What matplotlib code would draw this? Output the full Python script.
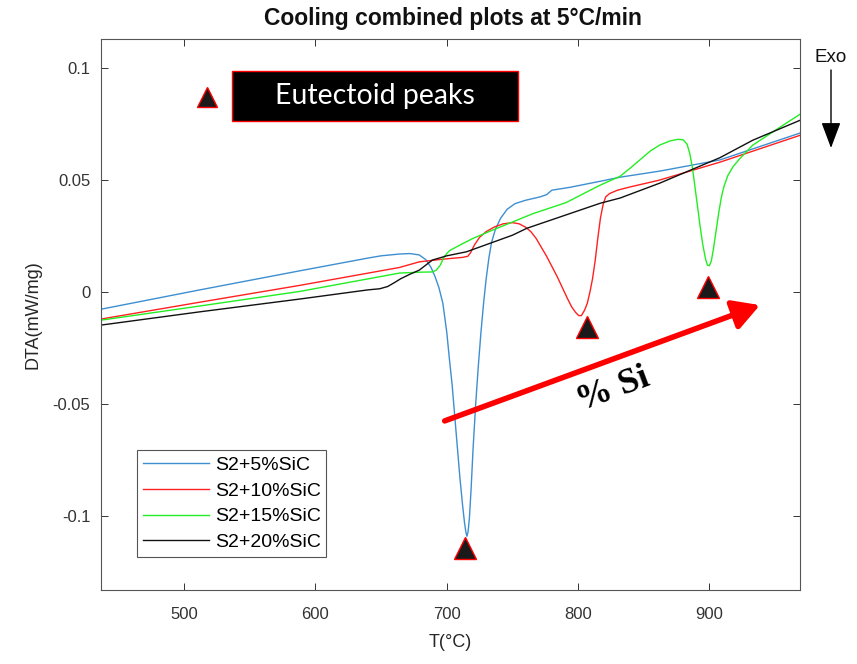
import matplotlib
matplotlib.use("Agg")
import matplotlib.pyplot as plt
from matplotlib.patches import Rectangle

plt.rcParams['font.family'] = ['Liberation Sans', 'DejaVu Sans']
plt.rcParams['axes.unicode_minus'] = False

# curves (T in degC, DTA in mW/mg)
t_5 = [437, 512, 588, 640, 650, 664, 672, 679, 684, 688, 691, 694, 697, 700, 702, 704,
       706, 708, 710, 712, 713.5, 714.5, 715.3, 716.2, 717.2, 718.5, 720, 722, 724, 726,
       728, 730, 732, 734, 737, 741, 746, 752, 760, 771, 776, 780, 794, 817, 832, 862, 908, 969]
dta_5 = [-0.0076, 0.001, 0.0095, 0.0152, 0.0162, 0.017, 0.0172, 0.0166, 0.0145, 0.011,
         0.007, 0.002, -0.005, -0.018, -0.030, -0.041, -0.055, -0.069, -0.083, -0.095,
         -0.103, -0.107, -0.109, -0.107, -0.101, -0.088, -0.070, -0.050, -0.033, -0.018,
         -0.005, 0.006, 0.015, 0.022, 0.028, 0.033, 0.037, 0.0395, 0.041, 0.0425, 0.0435,
         0.0455, 0.0468, 0.0495, 0.0513, 0.054, 0.059, 0.071]

t_10 = [437, 512, 588, 664, 679, 697, 712, 716, 718, 721, 725, 730, 736, 743, 750, 755,
        760, 764, 768, 772, 776, 780, 784, 788, 792, 795, 798, 800.5, 802.5, 805, 807, 809,
        811, 813, 815, 817, 819, 821, 824, 830, 840, 862, 908, 969]
dta_10 = [-0.012, -0.0045, 0.003, 0.011, 0.0135, 0.0147, 0.0155, 0.016, 0.0175, 0.021,
          0.0245, 0.027, 0.029, 0.0305, 0.031, 0.0305, 0.029, 0.027, 0.024, 0.020, 0.016,
          0.0115, 0.007, 0.002, -0.003, -0.0065, -0.009, -0.0105, -0.0105, -0.008, -0.005,
          0.000, 0.006, 0.014, 0.024, 0.033, 0.039, 0.0425, 0.044, 0.0455, 0.047, 0.050,
          0.058, 0.070]

t_15 = [437, 512, 588, 664, 680, 689, 692, 695, 698, 702, 710, 720, 735, 765.5, 791, 816.6,
        832, 840, 847, 855, 862, 870, 876, 880, 883, 885, 887, 889, 891, 893, 895, 897,
        898.5, 900, 901.5, 903, 905, 907, 909, 911, 914, 918, 923, 933, 948, 969]
dta_15 = [-0.0125, -0.0062, 0.0003, 0.0085, 0.0089, 0.009, 0.0098, 0.012, 0.0158, 0.0185,
          0.021, 0.024, 0.0277, 0.035, 0.040, 0.0477, 0.0517, 0.0555, 0.059, 0.063, 0.0656,
          0.0675, 0.0682, 0.0680, 0.066, 0.062, 0.0558, 0.047, 0.038, 0.029, 0.021, 0.015,
          0.012, 0.0118, 0.014, 0.019, 0.027, 0.035, 0.042, 0.047, 0.052, 0.056, 0.0595,
          0.0656, 0.0714, 0.0794]

t_20 = [437, 512, 588, 640, 649, 655, 660, 665, 672, 679, 685, 689, 700, 715, 750, 761,
        778.5, 817, 832, 862, 908, 933, 969]
dta_20 = [-0.0147, -0.0088, -0.0031, 0.001, 0.0015, 0.0025, 0.0042, 0.006, 0.008, 0.0098,
          0.0125, 0.0143, 0.0162, 0.018, 0.0254, 0.0285, 0.032, 0.0397, 0.042, 0.0486,
          0.060, 0.0678, 0.0767]

labels = ['S2+5%SiC', 'S2+10%SiC', 'S2+15%SiC', 'S2+20%SiC']
colors = ['#3d8fd1', '#ff2020', '#22ee22', '#111111']

peak_t = [713.7, 806.7, 899.0]
peak_dta = [-0.1143, -0.0156, 0.0022]

x_ticks = [500, 600, 700, 800, 900]
y_ticks = [-0.1, -0.05, 0, 0.05, 0.1]
y_tick_labels = ['-0.1', '-0.05', '0', '0.05', '0.1']

fig = plt.figure(figsize=(8.57, 6.64), dpi=100)
ax = fig.add_axes([0.1184, 0.1114, 0.8151, 0.8299])

series = [(t_5, dta_5), (t_10, dta_10), (t_15, dta_15), (t_20, dta_20)]
for (t, d), c, lab in zip(series, colors, labels):
    ax.plot(t, d, color=c, lw=1, label=lab)

ax.plot(peak_t, peak_dta, ls='none', marker='^', ms=16, mfc='#1a1a1a', mec='red', mew=1)

ax.set_xlim(437, 969)
ax.set_ylim(-0.133, 0.113)
ax.set_xticks(x_ticks)
ax.set_yticks(y_ticks)
ax.set_yticklabels(y_tick_labels)
ax.tick_params(direction='in', top=True, right=True, length=5, width=0.7,
               labelsize=12, colors='#333333', pad=8)
ax.tick_params(axis='x', pad=12)
for s in ax.spines.values():
    s.set_color('#555555')
    s.set_linewidth(0.8)

ax.set_xlabel('T(°C)', fontsize=13, color='#262626', labelpad=9)
ax.set_ylabel('DTA(mW/mg)', fontsize=13, color='#262626', labelpad=8)
fig.text(453 / 857, 1 - 18 / 664, 'Cooling combined plots at 5°C/min', ha='center', va='center',
         fontsize=16.5, fontweight='bold', color='#111111')

leg = ax.legend(loc='lower left', bbox_to_anchor=(0.0508, 0.0599), borderaxespad=0,
                fontsize=14, fancybox=False, edgecolor='#555555', framealpha=1,
                handlelength=3.4, handletextpad=0.3, labelspacing=0.42, borderpad=0.3)
leg.get_frame().set_linewidth(0.8)

# "Eutectoid peaks" key box
fig.patches.append(Rectangle((232 / 857, 1 - 121 / 664), 286 / 857, 50 / 664,
                             transform=fig.transFigure, facecolor='black', edgecolor='red', lw=1))
fig.text(375 / 857, 1 - 96 / 664, 'Eutectoid peaks', ha='center', va='center',
         color='white', fontsize=20.5, family=['Lato', 'DejaVu Sans'])
ax.plot([517], [0.087], marker='^', ms=15, mfc='#1a1a1a', mec='red', mew=1, clip_on=False)

# % Si arrow
ax.annotate('', xy=(938.5, -0.0058), xytext=(698.4, -0.0575),
            arrowprops=dict(arrowstyle='-|>,head_length=0.8,head_width=0.45', color='red',
                            lw=4, mutation_scale=20, shrinkA=0, shrinkB=0))
ax.text(826.5, -0.0437, '% Si', rotation=20.5, rotation_mode='anchor', ha='center', va='center',
        fontsize=26, fontweight='bold', family=['Liberation Serif', 'DejaVu Serif'])

# Exo arrow outside axes
fig.text(831 / 857, 1 - 57 / 664, 'Exo', ha='center', va='center', fontsize=13.5, color='#111111')
ax.annotate('', xy=(831 / 857, 1 - 148 / 664), xytext=(831 / 857, 1 - 70 / 664),
            xycoords='figure fraction', textcoords='figure fraction',
            arrowprops=dict(arrowstyle='-|>,head_length=0.8,head_width=0.3', color='black',
                            lw=1, mutation_scale=20, shrinkA=0, shrinkB=0))

fig.savefig('out.png', dpi=100)
